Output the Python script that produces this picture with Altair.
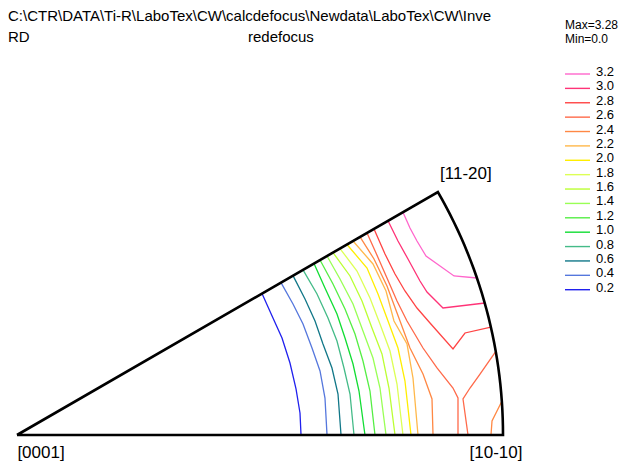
import altair as alt
import pandas as pd
import numpy as np

# ---- data (units: % of the projection radius) ----
levels = ["0.2", "0.4", "0.6", "0.8", "1.0", "1.2", "1.4", "1.6",
          "1.8", "2.0", "2.2", "2.4", "2.6", "2.8", "3.0", "3.2"]
colors = ["#2020ee", "#5577dd", "#117788", "#44bb88", "#11dd33", "#55ee44",
          "#99ff55", "#bbff33", "#ddff55", "#ffee00", "#ffb84a", "#ff8844",
          "#ff6a4a", "#ff4444", "#ff3377", "#ff66cc"]

c02_x = [50.41, 52.67, 54.53, 56.17, 57.41, 58.23, 58.44]
c02_y = [29.10, 24.07, 19.96, 14.81, 9.47, 4.53, 0.0]
c04_x = [54.32, 56.79, 58.85, 60.70, 62.35, 63.37, 63.79]
c04_y = [31.36, 26.95, 22.84, 17.90, 13.17, 7.61, 0.0]
c06_x = [56.79, 59.26, 61.32, 62.96, 64.81, 66.05, 66.67]
c06_y = [32.79, 27.98, 23.46, 18.72, 13.79, 8.44, 0.0]
c08_x = [58.85, 61.73, 63.99, 65.84, 67.28, 68.52, 69.34]
c08_y = [33.98, 29.01, 24.07, 19.34, 13.79, 8.44, 0.0]
c10_x = [61.11, 63.37, 65.84, 67.49, 69.14, 70.37, 71.60]
c10_y = [35.28, 30.25, 24.90, 19.96, 14.61, 9.05, 0.0]
c12_x = [62.35, 65.02, 67.49, 69.55, 71.19, 72.63, 73.66]
c12_y = [36.00, 31.07, 25.93, 20.78, 15.23, 9.05, 0.0]
c14_x = [63.79, 66.46, 69.14, 71.19, 73.25, 74.69, 75.93]
c14_y = [36.83, 32.10, 26.95, 21.40, 15.84, 9.67, 0.0]
c16_x = [65.02, 68.52, 70.99, 73.04, 75.10, 76.54, 77.78]
c16_y = [37.54, 32.72, 27.57, 22.02, 16.67, 9.67, 0.0]
c18_x = [66.46, 69.96, 72.63, 74.69, 76.75, 78.19, 79.42]
c18_y = [38.37, 33.74, 28.19, 22.84, 17.28, 10.49, 0.0]
c20_x = [67.90, 72.02, 74.28, 76.34, 78.39, 79.83, 81.07]
c20_y = [39.20, 34.36, 29.01, 23.46, 17.90, 11.11, 0.0]
c22_x = [69.14, 73.25, 75.93, 77.57, 80.25, 81.48, 82.51]
c22_y = [39.92, 35.19, 29.63, 23.46, 18.72, 11.73, 0.0]
c24a_x = [70.58, 73.46, 76.13, 78.81, 80.86, 83.54, 85.39, 85.60]
c24a_y = [40.75, 36.21, 30.66, 23.46, 17.90, 12.55, 7.41, 0.0]
c24b_x = [99.79, 97.74, 97.53]
c24b_y = [7.00, 2.88, 0.0]
c26a_x = [72.02, 73.87, 76.13, 78.19, 80.25, 83.54, 86.42, 89.71, 90.74, 90.74]
c26a_y = [41.58, 37.45, 32.30, 27.57, 23.46, 17.90, 13.79, 9.67, 7.61, 0.0]
c26b_x = [98.56, 95.27, 93.21, 91.77, 92.80]
c26b_y = [17.28, 12.55, 9.67, 7.41, 0.0]
c28_x = [73.46, 75.72, 77.78, 79.83, 82.30, 84.98, 89.71, 92.18, 97.50]
c28_y = [42.41, 37.24, 33.13, 29.63, 26.13, 23.05, 17.70, 20.99, 22.20]
c30_x = [76.34, 78.39, 80.45, 82.92, 84.36, 87.65, 96.30]
c30_y = [44.07, 39.92, 36.21, 31.69, 29.42, 26.13, 27.16]
c32_x = [79.42, 80.86, 82.30, 84.16, 89.92, 94.65]
c32_y = [45.85, 42.59, 39.92, 36.83, 32.72, 32.30]

poles = ["[0001]", "[10-10]", "[11-20]"]
title_path = r"C:\CTR\DATA\Ti-R\LaboTex\CW\calcdefocus\Newdata\LaboTex\CW\Inve"
title_dir = "RD"
title_name = "redefocus"
stat_max = "Max=3.28"
stat_min = "Min=0.0"

# ---- tables ----
contours = [("0.2", "a", c02_x, c02_y), ("0.4", "a", c04_x, c04_y),
            ("0.6", "a", c06_x, c06_y), ("0.8", "a", c08_x, c08_y),
            ("1.0", "a", c10_x, c10_y), ("1.2", "a", c12_x, c12_y),
            ("1.4", "a", c14_x, c14_y), ("1.6", "a", c16_x, c16_y),
            ("1.8", "a", c18_x, c18_y), ("2.0", "a", c20_x, c20_y),
            ("2.2", "a", c22_x, c22_y), ("2.4", "a", c24a_x, c24a_y),
            ("2.4", "b", c24b_x, c24b_y), ("2.6", "a", c26a_x, c26a_y),
            ("2.6", "b", c26b_x, c26b_y), ("2.8", "a", c28_x, c28_y),
            ("3.0", "a", c30_x, c30_y), ("3.2", "a", c32_x, c32_y)]
rows = []
for lev, br, xs, ys in contours:
    for i, (x, y) in enumerate(zip(xs, ys)):
        rows.append({"level": lev, "branch": lev + br, "x": x, "y": y, "i": i})
df = pd.DataFrame(rows)

# triangle frame of the inverse pole figure (0..30 degree sector)
ang = np.radians(np.arange(0, 31, 1.0))
fx = [0.0] + list(100 * np.cos(ang)) + [0.0]
fy = [0.0] + list(100 * np.sin(ang)) + [0.0]
frame_df = pd.DataFrame({"x": fx, "y": fy, "i": range(len(fx))})

W, H = 625, 458
PX = 4.86
X0, Y0 = 9, 427
xscale = alt.Scale(domain=[-X0 / PX, (W - X0) / PX], nice=False, zero=False)
yscale = alt.Scale(domain=[-(H - Y0) / PX, Y0 / PX], nice=False, zero=False)
cscale = alt.Scale(domain=levels, range=colors)
FONT = "Liberation Sans"

lines = alt.Chart(df).mark_line(strokeWidth=1.3).encode(
    x=alt.X("x:Q", scale=xscale, axis=None),
    y=alt.Y("y:Q", scale=yscale, axis=None),
    color=alt.Color("level:N", scale=cscale, legend=None),
    detail="branch:N",
    order="i:Q",
)

frame = alt.Chart(frame_df).mark_line(color="black", strokeWidth=2.6, strokeJoin="miter").encode(
    x=alt.X("x:Q", scale=xscale, axis=None),
    y=alt.Y("y:Q", scale=yscale, axis=None),
    order="i:Q",
)

pole_pos = [(0.0, 0.0, 24, 18), (100.0, 0.0, -7, 18), (86.6, 50.0, 28, -18)]
pole_layers = []
for name, (px_, py_, dx_, dy_) in zip(poles, pole_pos):
    pole_layers.append(
        alt.Chart(pd.DataFrame({"t": [name], "x": [px_], "y": [py_]}))
        .mark_text(font=FONT, fontSize=17, align="center", baseline="middle",
                   dx=dx_, dy=dy_, color="black")
        .encode(x=alt.X("x:Q", scale=xscale, axis=None),
                y=alt.Y("y:Q", scale=yscale, axis=None), text="t:N")
    )

leg_df = pd.DataFrame({"level": levels, "val": [float(v) for v in levels]})
leg_y = alt.Y("val:Q", scale=alt.Scale(domain=[3.2, 0.2], range=[66, 281.7]), axis=None)
leg_rule = alt.Chart(leg_df).mark_rule(strokeWidth=1.4).encode(
    x=alt.value(557), x2=alt.value(582), y=leg_y,
    color=alt.Color("level:N", scale=cscale, legend=None),
)
leg_text = alt.Chart(leg_df).mark_text(font=FONT, fontSize=13, align="left",
                                       baseline="alphabetic", dy=2, color="black").encode(
    x=alt.value(588), y=leg_y, text="level:N",
)


def label(txt, x, y, size):
    return alt.Chart(pd.DataFrame({"t": [txt]})).mark_text(
        font=FONT, fontSize=size, align="left", baseline="alphabetic", color="black"
    ).encode(x=alt.value(x), y=alt.value(y), text="t:N")


texts = [label(title_path, 0, 13, 15), label(title_dir, 0, 34, 15),
         label(title_name, 240, 34, 15), label(stat_max, 557, 21, 12),
         label(stat_min, 557, 35, 12)]

chart = alt.layer(lines, frame, *pole_layers, leg_rule, leg_text, *texts).resolve_scale(
    y="independent"
).properties(
    width=W, height=H, padding=0, autosize=alt.AutoSizeParams(type="none")
).configure_view(stroke=None)

chart.save("out.html", embed_options={"renderer": "svg", "actions": False})
